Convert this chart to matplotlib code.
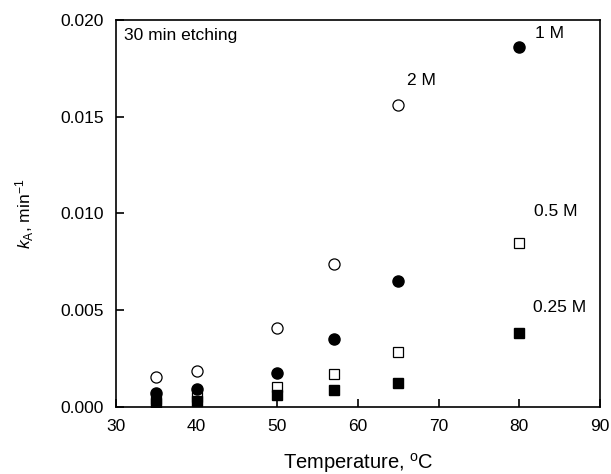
import matplotlib
matplotlib.use('Agg')
import matplotlib.pyplot as plt

plt.rcParams['font.family'] = ['Liberation Sans', 'DejaVu Sans']
plt.rcParams['mathtext.fontset'] = 'custom'
plt.rcParams['mathtext.rm'] = 'Liberation Sans'
plt.rcParams['mathtext.it'] = 'Liberation Sans:italic'

# rate constants k_A (1/min) after 30 min etching, per acid concentration
temp_2m = [35, 40, 50, 57, 65]
k_2m = [0.00157, 0.00187, 0.0041, 0.0074, 0.0156]

temp_1m = [35, 40, 50, 57, 65, 80]
k_1m = [0.00070, 0.00093, 0.00177, 0.0035, 0.0065, 0.0186]

temp_05m = [35, 40, 50, 57, 65, 80]
k_05m = [0.00040, 0.00052, 0.00102, 0.0017, 0.00284, 0.0085]

temp_025m = [35, 40, 50, 57, 65, 80]
k_025m = [0.00020, 0.00030, 0.00062, 0.00088, 0.00126, 0.0038]

fig = plt.figure(figsize=(6.11, 4.74), dpi=100)
ax = fig.add_axes([0.19, 0.1414, 0.792, 0.8164])

# open markers first so the filled ones sit on top
ax.plot(temp_2m, k_2m, 'o', ms=8, mfc='white', mec='black', mew=0.9, ls='none')
ax.plot(temp_05m, k_05m, 's', ms=7, mfc='white', mec='black', mew=0.9, ls='none')
ax.plot(temp_1m, k_1m, 'o', ms=8, mfc='black', mec='black', ls='none')
ax.plot(temp_025m, k_025m, 's', ms=7, mfc='black', mec='black', ls='none')

fs = 12.5
ax.text(31.0, 0.01922, '30 min etching', fontsize=fs, va='center')
ax.text(81.9, 0.0193, '1 M', fontsize=fs, va='center')
ax.text(66.1, 0.01685, '2 M', fontsize=fs, va='center')
ax.text(81.8, 0.01008, '0.5 M', fontsize=fs, va='center')
ax.text(81.7, 0.00512, '0.25 M', fontsize=fs, va='center')

ax.set_xlim(30, 90)
ax.set_ylim(0, 0.020)
ax.set_xticks([30, 40, 50, 60, 70, 80, 90])
ax.set_yticks([0.0, 0.005, 0.010, 0.015, 0.020])
ax.set_yticklabels(['0.000', '0.005', '0.010', '0.015', '0.020'])
ax.tick_params(direction='in', length=6, width=1.2, labelsize=fs, pad=9)

for sp in ax.spines.values():
    sp.set_linewidth(1.2)

ax.set_xlabel('Temperature, $^{\\rm o}$C', fontsize=14.5, labelpad=12)
ax.set_ylabel('$k_{\\rm A}$, min$^{-1}$', fontsize=12.5, labelpad=17)

fig.savefig('out.png', dpi=100)
